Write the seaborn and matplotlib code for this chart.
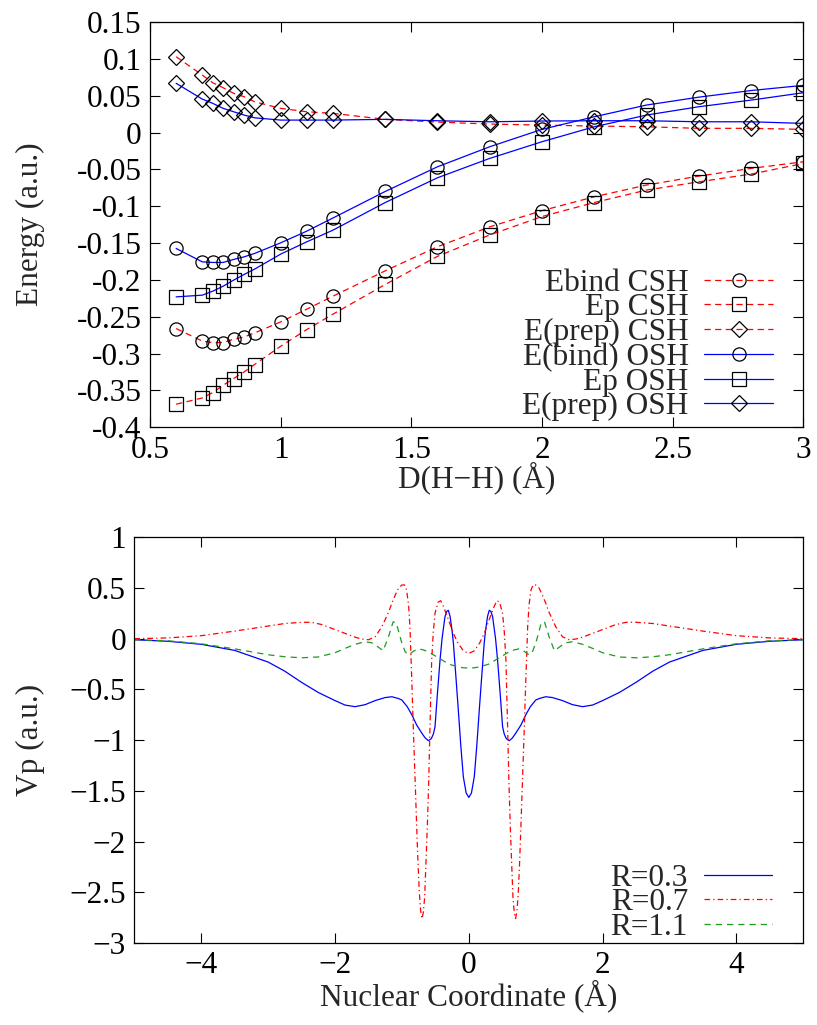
import numpy as np
import pandas as pd
import matplotlib
matplotlib.use("Agg")
import matplotlib.pyplot as plt
import seaborn as sns
from matplotlib.ticker import FixedLocator, FixedFormatter

# ---------------- top panel data ----------------
d_hh = [0.6, 0.7, 0.74, 0.78, 0.82, 0.86, 0.9, 1.0, 1.1, 1.2, 1.4, 1.6, 1.8, 2.0, 2.2, 2.4, 2.6, 2.8, 3.0]
ebind_csh = [-0.266, -0.283, -0.285, -0.285, -0.2805, -0.2774, -0.272, -0.257, -0.2397, -0.2221, -0.1877,
             -0.155, -0.128, -0.106, -0.0872, -0.0713, -0.0591, -0.0487, -0.0397]
ep_csh = [-0.3687, -0.3602, -0.3529, -0.343, -0.3338, -0.3249, -0.3148, -0.29, -0.2673, -0.2465, -0.2062,
          -0.168, -0.139, -0.114, -0.095, -0.0781, -0.0669, -0.0564, -0.042]
eprep_csh = [0.1029, 0.078, 0.0676, 0.0608, 0.0532, 0.0486, 0.0418, 0.0328, 0.0282, 0.026, 0.0179,
             0.0142, 0.0115, 0.0101, 0.0088, 0.0078, 0.0057, 0.0057, 0.0043]
ebind_osh = [-0.1573, -0.1755, -0.1763, -0.1763, -0.1722, -0.1687, -0.1641, -0.1497, -0.1338, -0.116, -0.080,
             -0.0465, -0.0193, 0.0043, 0.0214, 0.0373, 0.048, 0.057, 0.064]
ep_osh = [-0.223, -0.2207, -0.2153, -0.2085, -0.2003, -0.1926, -0.1854, -0.165, -0.1483, -0.1325, -0.095,
          -0.0614, -0.0351, -0.0125, 0.0078, 0.0237, 0.035, 0.044, 0.054]
eprep_osh = [0.0668, 0.0454, 0.0396, 0.0328, 0.0282, 0.0237, 0.020, 0.0169, 0.0169, 0.0169, 0.0179,
             0.016, 0.0146, 0.0156, 0.016, 0.016, 0.0146, 0.0146, 0.0124]
top_labels = ["Ebind CSH", "Ep CSH", "E(prep) CSH", "E(bind) OSH", "Ep OSH", "E(prep) OSH"]

top_xticks = [0.5, 1, 1.5, 2, 2.5, 3]
top_xticklabels = ["0.5", "1", "1.5", "2", "2.5", "3"]
top_yticks = [0.15, 0.1, 0.05, 0, -0.05, -0.1, -0.15, -0.2, -0.25, -0.3, -0.35, -0.4]
top_yticklabels = ["0.15", "0.1", "0.05", "0", "-0.05", "-0.1", "-0.15", "-0.2", "-0.25", "-0.3", "-0.35", "-0.4"]

# ---------------- bottom panel data ----------------
x_r03 = [-5.0, -4.5, -4.0, -3.5, -3.0, -2.75, -2.5, -2.25, -2.0, -1.85, -1.7, -1.55, -1.4, -1.25, -1.15, -1.05,
         -1.0, -0.92, -0.85, -0.78, -0.7, -0.65, -0.605, -0.56, -0.53, -0.505, -0.47, -0.43, -0.4, -0.356, -0.33,
         -0.306, -0.28, -0.25, -0.23, -0.19, -0.157, -0.12, -0.082, -0.04, 0.0,
         0.04, 0.082, 0.12, 0.157, 0.19, 0.23, 0.25, 0.28, 0.306, 0.33, 0.356, 0.4, 0.43, 0.47, 0.505, 0.53,
         0.56, 0.605, 0.65, 0.7, 0.78, 0.85, 0.92, 1.0, 1.05, 1.15, 1.25, 1.4, 1.55, 1.7, 1.85, 2.0, 2.25, 2.5,
         2.75, 3.0, 3.5, 4.0, 4.5, 5.0]
v_r03 = [-0.01, -0.025, -0.055, -0.115, -0.23, -0.32, -0.43, -0.53, -0.61, -0.654, -0.67, -0.65, -0.61, -0.58,
         -0.572, -0.59, -0.605, -0.67, -0.752, -0.85, -0.933, -0.98, -1.005, -0.985, -0.94, -0.868, -0.55, -0.21,
         0.0, 0.217, 0.27, 0.28, 0.22, 0.08, -0.045, -0.40, -0.70, -1.05, -1.36, -1.52, -1.565,
         -1.52, -1.36, -1.05, -0.70, -0.40, -0.045, 0.08, 0.22, 0.28, 0.27, 0.217, 0.0, -0.21, -0.55, -0.868,
         -0.94, -0.985, -1.005, -0.98, -0.933, -0.85, -0.752, -0.67, -0.605, -0.59, -0.572, -0.58, -0.61, -0.65,
         -0.67, -0.654, -0.61, -0.53, -0.43, -0.32, -0.23, -0.115, -0.055, -0.025, -0.01]

x_r07 = [-5.0, -4.5, -4.0, -3.5, -3.0, -2.75, -2.5, -2.35, -2.2, -2.0, -1.85, -1.7, -1.6, -1.5, -1.4, -1.3, -1.2,
         -1.15, -1.1, -1.05, -1.0, -0.96, -0.93, -0.9, -0.88, -0.85, -0.83, -0.8, -0.78, -0.76, -0.74, -0.72, -0.7,
         -0.68, -0.66, -0.64, -0.62, -0.6, -0.58, -0.555, -0.53, -0.505, -0.46, -0.42, -0.38, -0.3, -0.23, -0.16,
         -0.08, 0.0,
         0.08, 0.16, 0.23, 0.3, 0.38, 0.42, 0.46, 0.505, 0.53, 0.555, 0.58, 0.6, 0.62, 0.64, 0.66, 0.68, 0.7,
         0.72, 0.74, 0.76, 0.78, 0.8, 0.83, 0.85, 0.88, 0.9, 0.93, 0.96, 1.0, 1.05, 1.1, 1.15, 1.2, 1.3, 1.4, 1.5,
         1.6, 1.7, 1.85, 2.0, 2.2, 2.35, 2.5, 2.75, 3.0, 3.5, 4.0, 4.5, 5.0]
v_r07 = [0.0, 0.008, 0.03, 0.075, 0.125, 0.15, 0.162, 0.162, 0.14, 0.09, 0.053, 0.015, -0.003, -0.01, 0.02, 0.118,
         0.26, 0.35, 0.43, 0.50, 0.53, 0.53, 0.48, 0.33, 0.12, -0.45, -0.87, -1.44, -1.83, -2.2, -2.5, -2.68, -2.76,
         -2.70, -2.55, -2.2, -1.85, -1.42, -0.87, -0.21, 0.07, 0.25, 0.36, 0.375, 0.32, 0.18, 0.05, -0.045,
         -0.12, -0.145,
         -0.12, -0.045, 0.05, 0.18, 0.32, 0.375, 0.36, 0.25, 0.07, -0.21, -0.87, -1.42, -1.85, -2.2, -2.55, -2.70,
         -2.76, -2.68, -2.5, -2.2, -1.83, -1.44, -0.87, -0.45, 0.12, 0.33, 0.48, 0.53, 0.53, 0.50, 0.43, 0.35, 0.26,
         0.118, 0.02, -0.01, -0.003, 0.015, 0.053, 0.09, 0.14, 0.162, 0.162, 0.15, 0.125, 0.075, 0.03, 0.008, 0.0]

x_r11 = [-5.0, -4.5, -4.0, -3.5, -3.0, -2.75, -2.5, -2.25, -2.0, -1.85, -1.7, -1.55, -1.45, -1.38, -1.28, -1.2,
         -1.13, -1.08, -1.04, -1.0, -0.95, -0.9, -0.82, -0.75, -0.68, -0.6, -0.5, -0.4, -0.3, -0.2, -0.1, 0.0,
         0.1, 0.2, 0.3, 0.4, 0.5, 0.6, 0.68, 0.75, 0.82, 0.9, 0.95, 1.0, 1.04, 1.08, 1.13, 1.2, 1.28, 1.38, 1.45,
         1.55, 1.7, 1.85, 2.0, 2.25, 2.5, 2.75, 3.0, 3.5, 4.0, 4.5, 5.0]
v_r11 = [-0.01, -0.02, -0.05, -0.10, -0.158, -0.178, -0.188, -0.18, -0.138, -0.095, -0.055, -0.03, -0.04, -0.07,
         -0.118, 0.02, 0.168, 0.15, 0.05, -0.045, -0.13, -0.16, -0.12, -0.10, -0.11, -0.13, -0.17, -0.21, -0.25,
         -0.27, -0.285, -0.29,
         -0.285, -0.27, -0.25, -0.21, -0.17, -0.13, -0.11, -0.10, -0.12, -0.16, -0.13, -0.045, 0.05, 0.15, 0.168,
         0.02, -0.118, -0.07, -0.04, -0.03, -0.055, -0.095, -0.138, -0.18, -0.188, -0.178, -0.158, -0.10, -0.05,
         -0.02, -0.01]
bottom_labels = ["R=0.3", "R=0.7", "R=1.1"]

bot_xticks = [-4, -2, 0, 2, 4]
bot_xticklabels = ["\u22124", "\u22122", "0", "2", "4"]
bot_yticks = [1, 0.5, 0, -0.5, -1, -1.5, -2, -2.5, -3]
bot_yticklabels = ["1", "0.5", "0", "\u22120.5", "\u22121", "\u22121.5", "\u22122", "\u22122.5", "\u22123"]

# ---------------- styling ----------------
sns.set_theme(style="ticks")
FS = 22.5
plt.rcParams["font.family"] = ["Liberation Serif", "DejaVu Serif"]
plt.rcParams["axes.linewidth"] = 0.9
plt.rcParams["axes.edgecolor"] = "black"

W, H = 817, 1025
fig = plt.figure(figsize=(W / 100, H / 100), dpi=100)
ax1 = fig.add_axes([150 / W, 1 - 427.3 / H, (803.3 - 150) / W, (427.3 - 22) / H])
ax2 = fig.add_axes([134.3 / W, 1 - 943 / H, (803.3 - 134.3) / W, (943 - 537.3) / H])

RED = "#ff0000"
BLUE = "#0000ff"
GREEN = "#1f9a1f"
lw = 0.9

top_series = [
    (ebind_csh, RED, (0, (5, 3.5)), "o", 9.5),
    (ep_csh, RED, (0, (5, 3.5)), "s", 9.5),
    (eprep_csh, RED, (0, (5, 3.5)), "D", 8.3),
    (ebind_osh, BLUE, "-", "o", 9.5),
    (ep_osh, BLUE, "-", "s", 9.5),
    (eprep_osh, BLUE, "-", "D", 8.3),
]
for (vals, col, ls, mk, ms), lab in zip(top_series, top_labels):
    df = pd.DataFrame({"x": d_hh, "y": vals})
    sns.lineplot(data=df, x="x", y="y", ax=ax1, color=col, linestyle=ls, linewidth=lw,
                 marker=mk, markersize=ms, markerfacecolor="none", markeredgecolor="black",
                 markeredgewidth=0.9, label=lab, estimator=None, sort=False)

ax1.set_xlim(0.5, 3)
ax1.set_ylim(-0.4, 0.15)
ax1.xaxis.set_major_locator(FixedLocator(top_xticks))
ax1.xaxis.set_major_formatter(FixedFormatter(top_xticklabels))
ax1.yaxis.set_major_locator(FixedLocator(top_yticks))
ax1.yaxis.set_major_formatter(FixedFormatter(top_yticklabels))
ax1.set_xlabel("D(H\u2212H) (\u00c5)", fontsize=FS)
ax1.set_ylabel("Energy (a.u.)", fontsize=FS)
ax1.xaxis.set_label_coords(0.5, -0.085)
ax1.yaxis.set_label_coords(-0.161, 0.5)

bot_series = [
    (x_r03, v_r03, BLUE, "-"),
    (x_r07, v_r07, RED, (0, (4.5, 2.5, 1, 2.5))),
    (x_r11, v_r11, GREEN, (0, (5, 4))),
]
for (xs, vs, col, ls), lab in zip(bot_series, bottom_labels):
    df = pd.DataFrame({"x": xs, "y": vs})
    sns.lineplot(data=df, x="x", y="y", ax=ax2, color=col, linestyle=ls, linewidth=lw,
                 label=lab, estimator=None, sort=False)

ax2.set_xlim(-5, 5)
ax2.set_ylim(-3, 1)
ax2.xaxis.set_major_locator(FixedLocator(bot_xticks))
ax2.xaxis.set_major_formatter(FixedFormatter(bot_xticklabels))
ax2.yaxis.set_major_locator(FixedLocator(bot_yticks))
ax2.yaxis.set_major_formatter(FixedFormatter(bot_yticklabels))
ax2.set_xlabel("Nuclear Coordinate (\u00c5)", fontsize=FS)
ax2.set_ylabel("Vp (a.u.)", fontsize=FS)
ax2.xaxis.set_label_coords(0.5, -0.09)
ax2.yaxis.set_label_coords(-0.133, 0.5)

for ax, anchor_y in ((ax1, 0.015), (ax2, 0.003)):
    ax.tick_params(direction="in", length=7, width=0.8, top=True, right=True,
                   labelsize=FS, pad=6, colors="black")
    for s in ax.spines.values():
        s.set_visible(True)
        s.set_color("black")
        s.set_linewidth(0.9)
    ax.legend(loc="lower right", bbox_to_anchor=(0.9536, anchor_y), frameon=False, markerfirst=False,
              handlelength=2.2, handletextpad=0.5, labelspacing=-0.14, borderpad=0, borderaxespad=0,
              fontsize=FS)

fig.savefig("out.png", dpi=100)
